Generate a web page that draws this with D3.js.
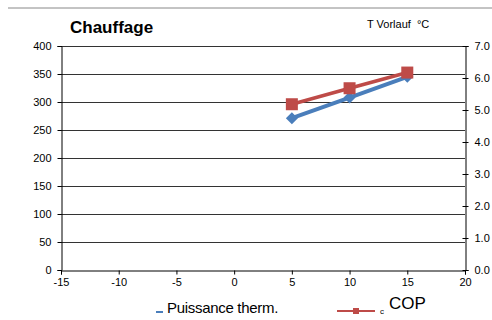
<!DOCTYPE html>
<html><head><meta charset="utf-8">
<script src="https://cdn.jsdelivr.net/npm/d3@7"></script>
<style>body{margin:0;background:#fff}svg{display:block;font-family:"Liberation Sans",Arial,sans-serif}</style>
</head><body><svg id="c" width="492" height="320"></svg>
<script>
const xTicks = [-15,-10,-5,0,5,10,15,20];
const leftTicks = [0,50,100,150,200,250,300,350,400];
const rightTicks = [0,1,2,3,4,5,6,7];
const temps = [5,10,15];
const puissance = [271,308,345];
const cop = [5.18,5.68,6.17];

const svg = d3.select("#c");
const x = d3.scaleLinear().domain([-15,20]).range([61,465]);
const yL = d3.scaleLinear().domain([0,400]).range([270,46]);
const yR = d3.scaleLinear().domain([0,7]).range([270,46]);

svg.append("line").attr("x1",8).attr("x2",492).attr("y1",8).attr("y2",8).attr("stroke","#888").attr("stroke-width",1);

// gridlines
svg.append("g").selectAll("line").data(leftTicks.filter(d=>d>0)).join("line")
  .attr("x1",61).attr("x2",465).attr("y1",d=>yL(d)+0.5).attr("y2",d=>yL(d)+0.5)
  .attr("stroke","#333").attr("stroke-width",1);

const fmtInt = d => String(d);
const gL = svg.append("g").attr("transform","translate(61.5,0)")
  .call(d3.axisLeft(yL).tickValues(leftTicks).tickSize(4).tickPadding(6).tickFormat(fmtInt));
const gR = svg.append("g").attr("transform","translate(465.5,0)")
  .call(d3.axisRight(yR).tickValues(rightTicks).tickSize(3).tickPadding(6).tickFormat(d=>d.toFixed(1)));
gR.selectAll(".tick line").attr("x1",-3);
const gB = svg.append("g").attr("transform","translate(0,270.5)")
  .call(d3.axisBottom(x).tickValues(xTicks).tickSize(4).tickPadding(4).tickFormat(fmtInt));
[gL,gR,gB].forEach(g=>{
  g.select(".domain").attr("stroke","#000");
  g.selectAll(".tick line").attr("stroke","#000");
  g.selectAll("text").attr("font-size",11).attr("fill","#000").attr("font-family","Liberation Sans, Arial, sans-serif");
});

// series
const blue="#4a7ebb", red="#be4b48";
const lineB = d3.line().x((d,i)=>x(temps[i])).y(d=>yL(d));
const lineR = d3.line().x((d,i)=>x(temps[i])).y(d=>yR(d));
svg.append("path").attr("d",lineB(puissance)).attr("fill","none").attr("stroke",blue).attr("stroke-width",4);
svg.append("g").selectAll("path").data(puissance).join("path")
  .attr("d",d3.symbol(d3.symbolSquare,72)())
  .attr("transform",(d,i)=>`translate(${x(temps[i])},${yL(d)}) rotate(45)`).attr("fill",blue);
svg.append("path").attr("d",lineR(cop)).attr("fill","none").attr("stroke",red).attr("stroke-width",3.5);
svg.append("g").selectAll("rect").data(cop).join("rect")
  .attr("x",(d,i)=>x(temps[i])-6).attr("y",d=>yR(d)-6).attr("width",12).attr("height",12).attr("fill",red);

// titles
svg.append("text").attr("x",70).attr("y",33).attr("font-size",17).attr("font-weight","bold").text("Chauffage");
svg.append("text").attr("x",367).attr("y",28).attr("font-size",11).attr("xml:space","preserve").text("T Vorlauf  °C");

// legend
svg.append("line").attr("x1",156).attr("x2",163).attr("y1",312).attr("y2",312).attr("stroke",blue).attr("stroke-width",2);
svg.append("text").attr("x",167).attr("y",313).attr("font-size",15).attr("letter-spacing",-0.3).text("Puissance therm.");
svg.append("line").attr("x1",337).attr("x2",375).attr("y1",311).attr("y2",311).attr("stroke",red).attr("stroke-width",2);
svg.append("rect").attr("x",353).attr("y",308).attr("width",6).attr("height",6).attr("fill",red);
svg.append("text").attr("x",380).attr("y",314).attr("font-size",8).text("c");
svg.append("text").attr("x",389).attr("y",309).attr("font-size",17).text("COP");
</script></body></html>
